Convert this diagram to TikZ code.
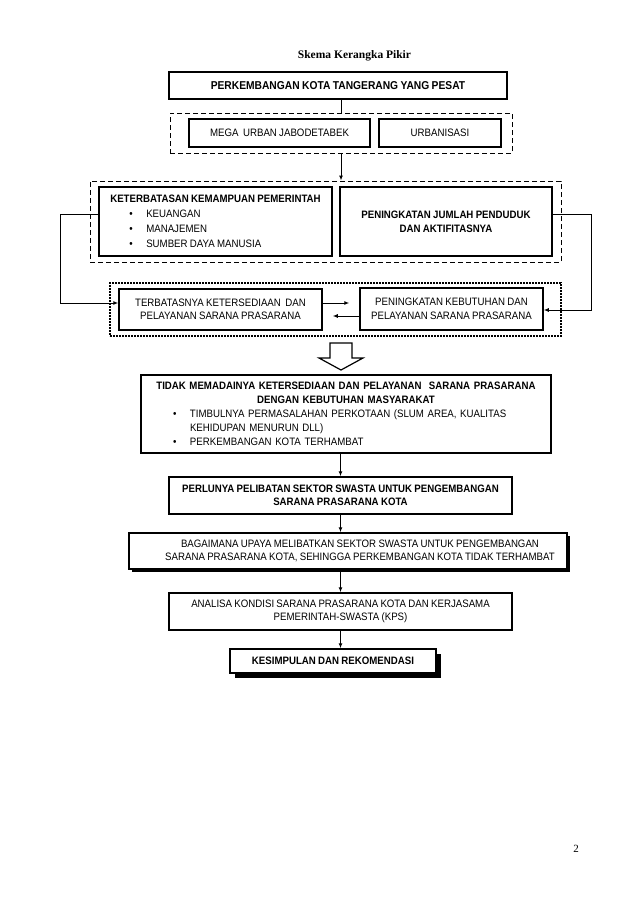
\documentclass[tikz,border=0pt]{standalone}
\usepackage{fontspec}
\setmainfont{Liberation Sans}[FakeStretch=0.9,WordSpace=0.85]
\newfontfamily\titlefont{Liberation Serif}
\usetikzlibrary{arrows.meta,calc,shadows}
\newcommand\bulit{\makebox[17pt][l]{\textbullet}}
\begin{document}
\begin{tikzpicture}[x=1pt,y=-1pt,
  box/.style={draw, line width=1.5pt, inner sep=2pt, align=center,
    font=\fontsize{10.75}{13.5}\selectfont},
  grp/.style={draw, line width=0.9pt, dash pattern=on 5pt off 3pt, inner sep=0pt},
  dotgrp/.style={draw, line width=1.3pt, dash pattern=on 1.6pt off 1.4pt, inner sep=0pt},
  conn/.style={line width=1pt},
  arr/.style={conn, -{Latex[length=5pt,width=4pt]}},
  shad/.style={drop shadow={shadow xshift=#1, shadow yshift=-#1, fill=black, opacity=1}, fill=white}
]
\fill[white] (0,0) rectangle (638,903);
\useasboundingbox (0,0) rectangle (638,903);

\node[font=\titlefont\bfseries\fontsize{11.5}{13}\selectfont] (title) at (354.5,56) {Skema Kerangka Pikir};

\node[box, font=\bfseries\fontsize{11.4}{13}\selectfont, minimum width=338pt, minimum height=27pt] (b1) at (338,85.5) {PERKEMBANGAN KOTA TANGERANG YANG PESAT};

\node[grp, minimum width=342pt, minimum height=40pt] (dash1) at (341,133) {};
\node[box, minimum width=181pt, minimum height=28pt] (mega) at (279.5,133) {MEGA\ \ URBAN JABODETABEK};
\node[box, minimum width=122pt, minimum height=28pt] (urban) at (440,133) {URBANISASI};

\node[grp, minimum width=471pt, minimum height=81pt] (dash2) at (325.5,221.5) {};
\node[box, align=left, font=\fontsize{10.75}{15}\selectfont, minimum width=233pt, minimum height=69pt] (keter) at (215.5,221.5)
 {{\bfseries KETERBATASAN KEMAMPUAN PEMERINTAH}\\
  \hspace*{19pt}\bulit KEUANGAN\\
  \hspace*{19pt}\bulit MANAJEMEN\\
  \hspace*{19pt}\bulit SUMBER DAYA MANUSIA};
\node[box, font=\bfseries\fontsize{10.75}{13.7}\selectfont, minimum width=212pt, minimum height=69pt] (pen1) at (446,221.5)
 {PENINGKATAN JUMLAH PENDUDUK\\DAN AKTIFITASNYA};

\node[dotgrp, minimum width=451pt, minimum height=53pt] (dot3) at (335.5,309.5) {};
\node[box, minimum width=203pt, minimum height=41pt] (terb) at (220.5,309.5)
 {TERBATASNYA KETERSEDIAAN\ \ DAN\\PELAYANAN SARANA PRASARANA};
\node[box, minimum width=183pt, minimum height=42pt] (pen2) at (451.5,309)
 {PENINGKATAN KEBUTUHAN DAN\\PELAYANAN SARANA PRASARANA};

% connectors
\coordinate (lc) at (60.7,0);
\coordinate (rc) at (591.7,0);
\draw[conn] (dash1.north |- b1.south) -- (dash1.north);
\draw[arr] (dash1.south) -- (dash1.south |- dash2.north);
\draw[arr] ([yshift=7.5pt]keter.west) -- ([yshift=7.5pt]keter.west -| lc) |- ([yshift=6.5pt]terb.west);
\draw[arr] ([yshift=7.5pt]pen1.east) -- ([yshift=7.5pt]pen1.east -| rc) |- ([yshift=-1pt]pen2.east);
\draw[arr, shorten >=10pt] ([yshift=6.5pt]terb.east) -- ([yshift=6.5pt]terb.east -| pen2.west);
\draw[arr, shorten >=10pt] ([yshift=-7pt]pen2.west) -- ([yshift=-7pt]pen2.west -| terb.east);

% block arrow
\draw[line width=1.2pt, fill=white, line join=miter] (330,343) -- (352,343) -- (352,358) -- (363,358) -- (341,370) -- (319,358) -- (330,358) -- cycle;

\node[box, align=left, text width=406pt, minimum height=78pt, font=\fontsize{10.75}{14}\selectfont] (tidak) at (346,414)
 {\setlength{\parindent}{0pt}{\centering\bfseries TIDAK MEMADAINYA KETERSEDIAAN DAN PELAYANAN\ \ SARANA PRASARANA\\DENGAN KEBUTUHAN MASYARAKAT\par}
  \hspace*{30pt}\bulit TIMBULNYA PERMASALAHAN PERKOTAAN (SLUM AREA, KUALITAS\\
  \hspace*{47pt}KEHIDUPAN MENURUN DLL)\\
  \hspace*{30pt}\bulit PERKEMBANGAN KOTA TERHAMBAT};

\node[box, font=\bfseries\fontsize{10.75}{13}\selectfont, minimum width=343pt, minimum height=37pt] (perlu) at (340.5,495.5)
 {PERLUNYA PELIBATAN SEKTOR SWASTA UNTUK PENGEMBANGAN\\SARANA PRASARANA KOTA};

\node[box, shad=3pt, minimum width=438pt, minimum height=36pt] (bagai) at (348,551)
 {\hspace*{24pt}\begin{tabular}{@{}c@{}}BAGAIMANA UPAYA MELIBATKAN SEKTOR SWASTA UNTUK PENGEMBANGAN\\[-0.5pt]
  SARANA PRASARANA KOTA, SEHINGGA PERKEMBANGAN KOTA TIDAK TERHAMBAT\end{tabular}};

\node[box, minimum width=343pt, minimum height=37pt] (anal) at (340.5,611.5)
 {ANALISA KONDISI SARANA PRASARANA KOTA DAN KERJASAMA\\PEMERINTAH-SWASTA (KPS)};

\node[box, shad=4.5pt, font=\bfseries\fontsize{10.75}{13}\selectfont, minimum width=206pt, minimum height=24pt] (kesim) at (333,661)
 {KESIMPULAN DAN REKOMENDASI};

\draw[arr] (perlu.north |- tidak.south) -- (perlu.north);
\draw[arr] (perlu.south) -- (perlu.south |- bagai.north);
\draw[arr] (anal.north |- bagai.south) -- (anal.north);
\draw[arr] (anal.south) -- (anal.south |- kesim.north);

\node[font=\titlefont\fontsize{11}{13}\selectfont] (pnum) at (576,849) {2};
\end{tikzpicture}
\end{document}
